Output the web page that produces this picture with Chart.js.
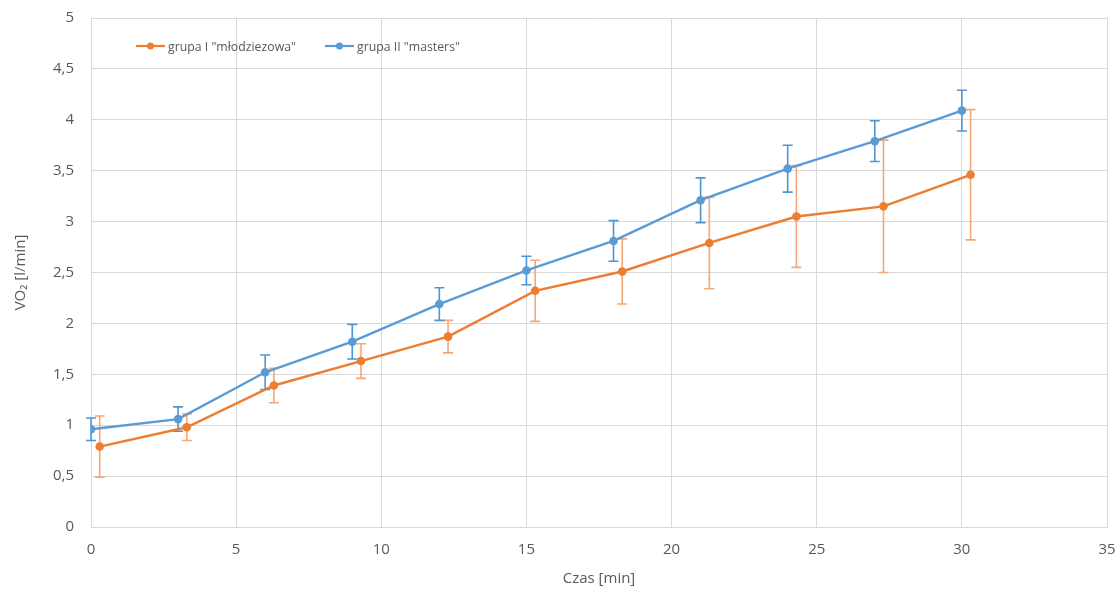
<!DOCTYPE html>
<html>
<head>
<meta charset="utf-8">
<script src="https://cdn.jsdelivr.net/npm/chart.js@4.4.1/dist/chart.umd.min.js"></script>
<style>
  html, body { margin: 0; padding: 0; background: #ffffff; }
  #wrap { width: 1117px; height: 589px; position: relative; }
</style>
</head>
<body>
<div id="wrap"><canvas id="chart" width="1117" height="589"></canvas></div>
<script>
// Time [min] for each group (the youth group is sampled slightly later)
const timeYouth   = [0.3, 3.3, 6.3, 9.3, 12.3, 15.3, 18.3, 21.3, 24.3, 27.3, 30.3];
const timeMasters = [0, 3, 6, 9, 12, 15, 18, 21, 24, 27, 30];

// Mean VO2 [l/min]
const vo2Youth   = [0.79, 0.98, 1.39, 1.63, 1.87, 2.32, 2.51, 2.79, 3.05, 3.15, 3.46];
const vo2Masters = [0.96, 1.06, 1.52, 1.82, 2.19, 2.52, 2.81, 3.21, 3.52, 3.79, 4.09];

// Standard deviation (error bar half-length)
const sdYouth   = [0.30, 0.13, 0.17, 0.17, 0.16, 0.30, 0.32, 0.45, 0.50, 0.65, 0.64];
const sdMasters = [0.11, 0.12, 0.17, 0.17, 0.16, 0.14, 0.20, 0.22, 0.23, 0.20, 0.20];

const seriesLabels = ['grupa I "młodziezowa"', 'grupa II "masters"'];
const xTicks = [0, 5, 10, 15, 20, 25, 30, 35];
const yTicks = [0, 0.5, 1, 1.5, 2, 2.5, 3, 3.5, 4, 4.5, 5];

const ORANGE = '#ED7D31';
const ORANGE_ERR = '#F4A877';
const BLUE = '#5B9BD5';
const BLUE_ERR = '#4E95D3';
const TEXT = '#595959';
const GRID = '#D9D9D9';
const FONT = '"Open Sans", "Liberation Sans", sans-serif';

const toPoints = (xs, ys) => xs.map((x, i) => ({ x: x, y: ys[i] }));
const fmt = v => String(v).replace('.', ',');

// Vertical error bars with caps, drawn behind the series lines
const errorBars = {
  id: 'errorBars',
  beforeDatasetsDraw(chart) {
    const ctx = chart.ctx;
    const xs = chart.scales.x, ys = chart.scales.y;
    chart.data.datasets.forEach(ds => {
      const sd = ds.sd;
      ctx.save();
      ctx.strokeStyle = ds.errColor;
      ctx.lineWidth = 1.6;
      ds.data.forEach((p, i) => {
        const px = xs.getPixelForValue(p.x);
        const top = ys.getPixelForValue(p.y + sd[i]);
        const bot = ys.getPixelForValue(p.y - sd[i]);
        ctx.beginPath();
        ctx.moveTo(px, top); ctx.lineTo(px, bot);
        ctx.moveTo(px - 5, top); ctx.lineTo(px + 5, top);
        ctx.moveTo(px - 5, bot); ctx.lineTo(px + 5, bot);
        ctx.stroke();
      });
      ctx.restore();
    });
  }
};

// Legend inside the plot: short line with a marker, then the label
const innerLegend = {
  id: 'innerLegend',
  afterDraw(chart) {
    const ctx = chart.ctx;
    const y = 46;
    const starts = [136, 325];
    ctx.save();
    ctx.font = '12.3px ' + FONT;
    ctx.textBaseline = 'middle';
    chart.data.datasets.forEach((ds, i) => {
      const x0 = starts[i];
      ctx.strokeStyle = ds.borderColor;
      ctx.lineWidth = 2.2;
      ctx.beginPath(); ctx.moveTo(x0, y); ctx.lineTo(x0 + 29, y); ctx.stroke();
      ctx.fillStyle = ds.borderColor;
      ctx.beginPath(); ctx.arc(x0 + 14.5, y, 3.5, 0, Math.PI * 2); ctx.fill();
      ctx.fillStyle = TEXT;
      ctx.fillText(ds.label, x0 + 32, y + 1);
    });
    ctx.restore();
  }
};

new Chart(document.getElementById('chart'), {
  type: 'line',
  data: {
    datasets: [
      {
        label: seriesLabels[0],
        data: toPoints(timeYouth, vo2Youth),
        sd: sdYouth,
        errColor: ORANGE_ERR,
        borderColor: ORANGE,
        backgroundColor: ORANGE,
        borderWidth: 2.4,
        pointRadius: 4.3,
        pointBorderWidth: 0,
        tension: 0
      },
      {
        label: seriesLabels[1],
        data: toPoints(timeMasters, vo2Masters),
        sd: sdMasters,
        errColor: BLUE_ERR,
        borderColor: BLUE,
        backgroundColor: BLUE,
        borderWidth: 2.4,
        pointRadius: 4.3,
        pointBorderWidth: 0,
        tension: 0
      }
    ]
  },
  options: {
    responsive: false,
    animation: false,
    layout: { padding: { top: 18, right: 10, left: 12, bottom: 1 } },
    plugins: { legend: { display: false }, tooltip: { enabled: false } },
    scales: {
      x: {
        type: 'linear',
        min: 0, max: 35,
        afterBuildTicks: s => { s.ticks = xTicks.map(v => ({ value: v })); },
        afterFit: s => { s.height = 61; s.paddingLeft = 0; s.paddingRight = 0; },
        grid: { color: GRID, lineWidth: 1, drawTicks: false },
        border: { color: GRID, width: 1 },
        ticks: { color: TEXT, font: { family: FONT, size: 15 }, padding: 14, callback: v => fmt(v) },
        title: { display: true, text: 'Czas [min]', color: TEXT, font: { family: FONT, size: 15 }, padding: { top: 0, bottom: 0 } }
      },
      y: {
        min: 0, max: 5,
        afterBuildTicks: s => { s.ticks = yTicks.map(v => ({ value: v })); },
        afterFit: s => { s.width = 79; s.paddingTop = 0; s.paddingBottom = 0; },
        grid: { color: GRID, lineWidth: 1, drawTicks: false },
        border: { color: GRID, width: 1 },
        ticks: { color: TEXT, font: { family: FONT, size: 15 }, padding: 17, callback: v => fmt(v) },
        title: { display: true, text: 'VO₂ [l/min]', color: TEXT, font: { family: FONT, size: 15 }, padding: { top: 0, bottom: 6 } }
      }
    }
  },
  plugins: [errorBars, innerLegend]
});
</script>
</body>
</html>
